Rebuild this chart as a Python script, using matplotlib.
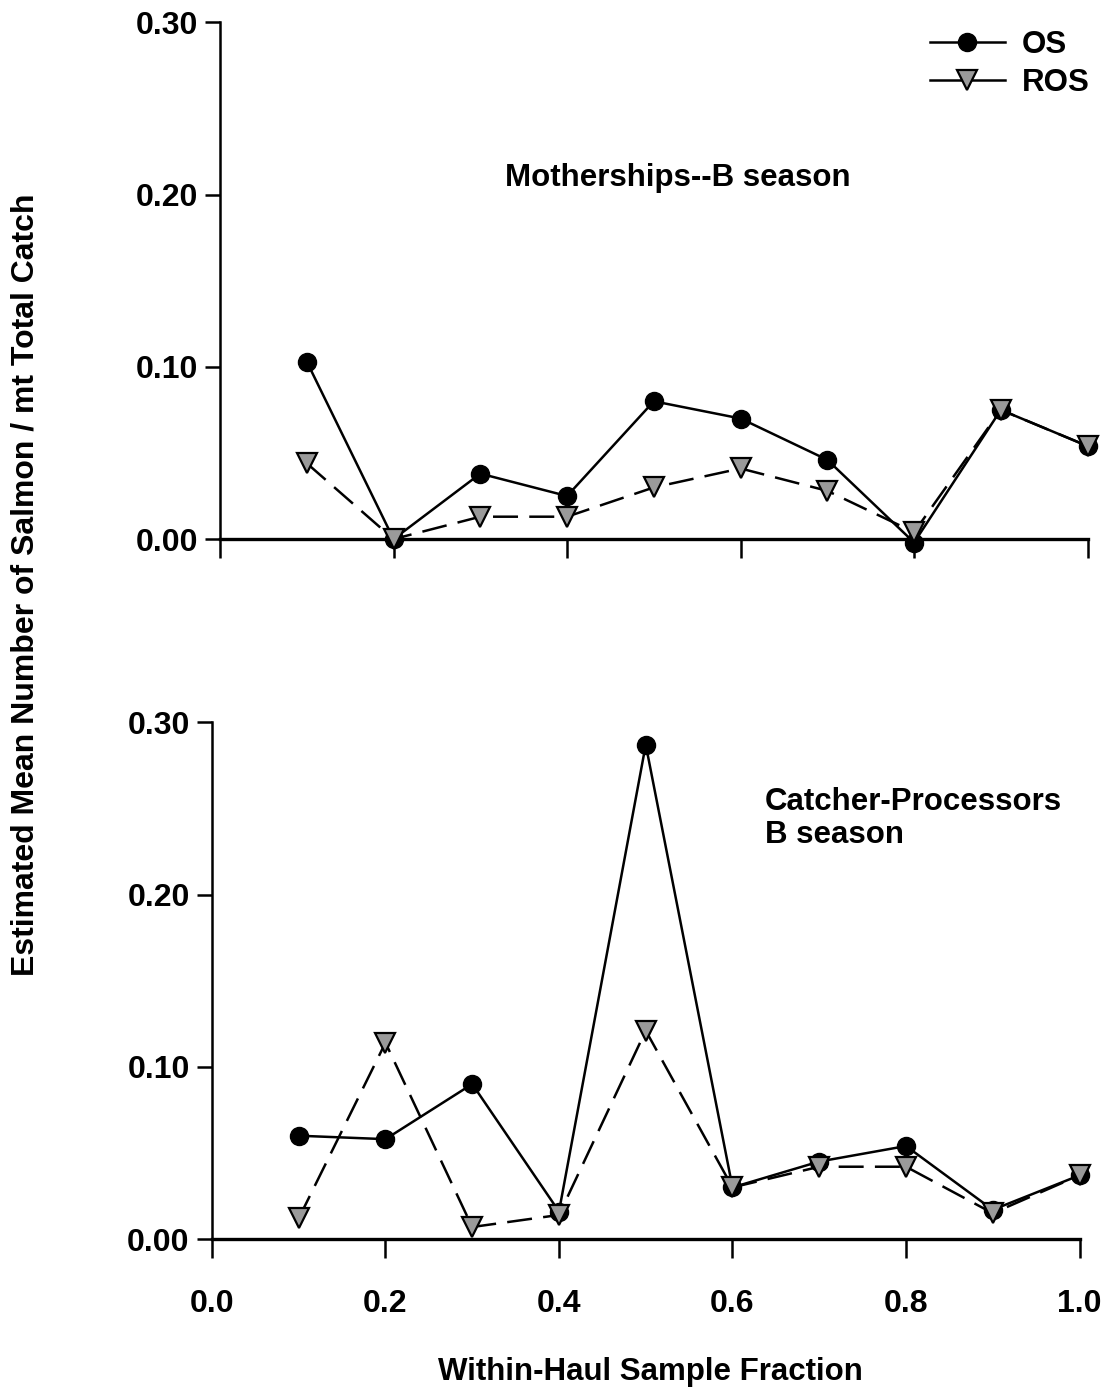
import numpy as np
import matplotlib.pyplot as plt
from matplotlib.lines import Line2D

plt.rcParams['font.family'] = ['Liberation Sans', 'DejaVu Sans']
plt.rcParams['font.weight'] = 'bold'

# Data
fraction = [0.1, 0.2, 0.3, 0.4, 0.5, 0.6, 0.7, 0.8, 0.9, 1.0]

# Motherships -- B season
ms_os = [0.103, 0.000, 0.038, 0.025, 0.080, 0.070, 0.046, -0.002, 0.075, 0.054]
ms_ros = [0.044, 0.000, 0.013, 0.013, 0.030, 0.041, 0.028, 0.004, 0.075, 0.054]

# Catcher-Processors -- B season
cp_os = [0.060, 0.058, 0.090, 0.016, 0.287, 0.030, 0.045, 0.054, 0.017, 0.037]
cp_ros = [0.012, 0.114, 0.007, 0.014, 0.121, 0.030, 0.042, 0.042, 0.015, 0.037]

x_ticks = [0.0, 0.2, 0.4, 0.6, 0.8, 1.0]
y_ticks = [0.0, 0.10, 0.20, 0.30]

fig = plt.figure(figsize=(11.08, 13.93), dpi=100)
ax1 = fig.add_axes([0.1986, 0.613, 0.783, 0.371])
ax2 = fig.add_axes([0.1913, 0.1105, 0.783, 0.371])

os_style = dict(color='black', lw=1.8, marker='o', ms=13, mfc='black', mec='black')
ros_style = dict(color='black', lw=1.8, marker='v', ms=14, mfc='#9a9a9a',
                 mec='black', mew=1.6)


def draw_panel(ax, os_vals, ros_vals, show_xlabels):
    ax.plot(fraction, os_vals, clip_on=False, zorder=3, **os_style)
    ax.plot(fraction, ros_vals, ls=(0, (10, 4.5)), clip_on=False, zorder=4,
            **ros_style)
    ax.set_xlim(0, 1.0)
    ax.set_ylim(0, 0.30)
    ax.set_xticks(x_ticks)
    ax.set_yticks(y_ticks)
    ax.set_yticklabels(['%.2f' % v for v in y_ticks])
    if show_xlabels:
        ax.set_xticklabels(['%.1f' % v for v in x_ticks])
    else:
        ax.set_xticklabels([])
    ax.spines['top'].set_visible(False)
    ax.spines['right'].set_visible(False)
    ax.spines['left'].set_linewidth(1.8)
    ax.spines['bottom'].set_linewidth(2.4)
    ax.tick_params(axis='y', direction='out', length=11, width=1.8,
                   labelsize=23, pad=5)
    ax.tick_params(axis='x', direction='out', length=14, width=1.8,
                   labelsize=23, pad=22)


draw_panel(ax1, ms_os, ms_ros, False)
draw_panel(ax2, cp_os, cp_ros, True)

ax1.text(0.328, 0.698, 'Motherships--B season', transform=ax1.transAxes,
         fontsize=22.5, ha='left', va='center')
ax2.text(0.637, 0.814, 'Catcher-Processors\nB season', transform=ax2.transAxes,
         fontsize=22.5, ha='left', va='center', linespacing=1.1)

handles = [Line2D([], [], **os_style), Line2D([], [], **ros_style)]
leg = ax1.legend(handles, ['OS', 'ROS'], loc='upper right',
                 bbox_to_anchor=(1.035, 1.04), frameon=False,
                 fontsize=22.5, handlelength=2.4, handletextpad=0.55,
                 labelspacing=0.25)

fig.text(0.023, 0.58, 'Estimated Mean Number of Salmon / mt Total Catch',
         rotation=90, fontsize=23, ha='center', va='center')
fig.text(0.587, 0.015, 'Within-Haul Sample Fraction', fontsize=22.5,
         ha='center', va='center')

fig.savefig('out.png', dpi=100)
